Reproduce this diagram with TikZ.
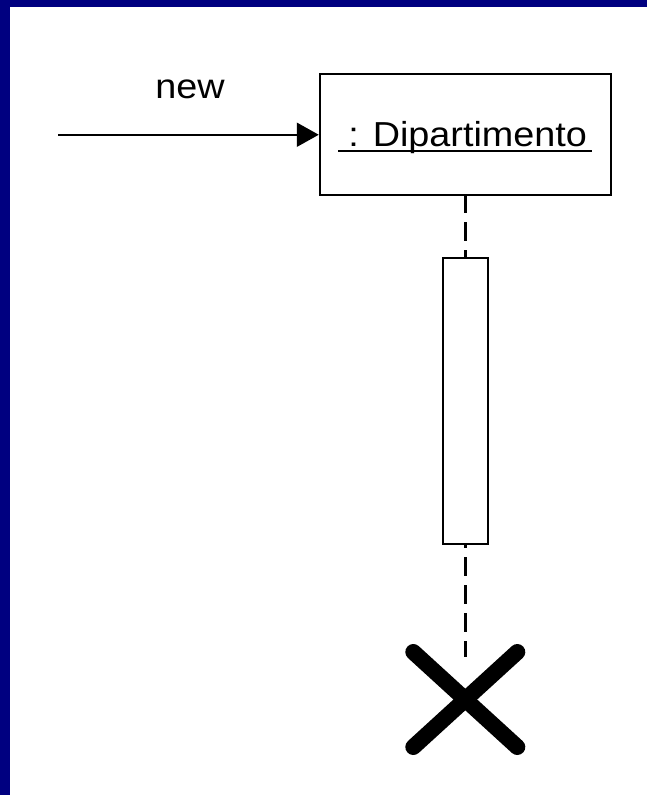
\documentclass[tikz,border=0pt]{standalone}
\usepackage{fontspec}
\setmainfont{Liberation Sans}[FakeStretch=1.09]
\usetikzlibrary{arrows.meta,calc}
\definecolor{slideblue}{RGB}{0,0,128}
\tikzset{
  x=0.75pt, y=-0.75pt,
  lbl/.style={font=\fontsize{26}{31}\selectfont, inner sep=0pt},
  objbox/.style={draw, line width=1.5pt, minimum width=218.6pt, minimum height=90.4pt, inner sep=0pt},
  actbox/.style={draw, line width=1.5pt, minimum width=33.5pt, minimum height=214.3pt, inner sep=0pt},
  msg/.style={line width=1.5pt, -{Triangle[length=16.5pt, width=18pt]}},
  lifeline/.style={line width=2.5pt, dash pattern=on 14.25pt off 6.75pt},
  uline/.style={line width=1.5pt},
  destroy/.style={line width=12pt, line cap=round}
}
\begin{document}
\begin{tikzpicture}
\useasboundingbox (0,0) rectangle (647,795);
\fill[white] (0,0) rectangle (647,795);
\fill[slideblue] (0,0) rectangle (647,7.3);
\fill[slideblue] (0,0) rectangle (10,795);

\node[objbox] (obj) at (465.5,134.75) {};
\node[actbox] (act) at (465.3,401.15) {};
\node[lbl, anchor=base] (newlbl) at (190,98.3) {new};
\node[lbl, anchor=base west] (dtext) at (348,146.7) {: Dipartimento};
\draw[uline] ($(dtext.base west)+(-10,4)$) -- ($(dtext.base east)+(5,4)$);

\coordinate (start) at (58,134.75);
\draw[msg] (start) -- (obj.west);

\draw[lifeline, dash phase=1.5pt] (act.north |- obj.south) -- (act.north);
\coordinate (xend) at (465.3,657);
\draw[lifeline, dash phase=12pt] (act.south) -- (xend);

\coordinate (xc) at (465.3,699.5);
\draw[destroy] ($(xc)+(-52,-47.5)$) -- ($(xc)+(52,47.5)$);
\draw[destroy] ($(xc)+(52,-47.5)$) -- ($(xc)+(-52,47.5)$);
\end{tikzpicture}
\end{document}
